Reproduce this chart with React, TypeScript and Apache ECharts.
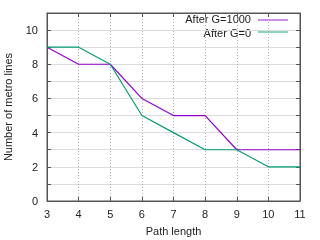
import React, { useEffect, useRef } from "react";
import * as echarts from "echarts";

const pathLength = [3, 4, 5, 6, 7, 8, 9, 10, 11];
const afterG1000 = [9, 8, 8, 6, 5, 5, 3, 3, 3];
const afterG0 = [9, 9, 8, 5, 4, 3, 3, 2, 2];
const seriesNames = ["After G=1000", "After G=0"];
const colors = ["#9400d3", "#009e73"];

export default function App() {
  const ref = useRef<HTMLDivElement>(null);
  useEffect(() => {
    if (!ref.current) return;
    const chart = echarts.init(ref.current, undefined, { renderer: "svg" });
    const font = "Liberation Sans, Arial, sans-serif";
    const toPairs = (ys: number[]) => pathLength.map((x, i) => [x, ys[i]]);
    chart.setOption({
      animation: false,
      grid: {
        left: 47, right: 20, top: 13, bottom: 39, show: true, borderColor: "#555", borderWidth: 1,
        containLabel: false, outerBoundsMode: "none",
      },
      xAxis: [
        {
          type: "value", min: 3, max: 11, interval: 1,
          name: "Path length", nameLocation: "middle", nameGap: 24,
          nameTextStyle: { fontFamily: font, fontSize: 11, color: "#222" },
          axisLine: { show: true, onZero: false, lineStyle: { color: "#555" } },
          axisTick: { show: true, inside: true, length: 4, lineStyle: { color: "#555" } },
          axisLabel: { fontFamily: font, fontSize: 11, color: "#222", margin: 7 },
          splitLine: { show: true, lineStyle: { color: "#b0b0b0", type: [1, 2], width: 1 } },
        },
        {
          type: "value", min: 3, max: 11, interval: 1, position: "top",
          axisLine: { show: true, onZero: false, lineStyle: { color: "#555" } },
          axisTick: { show: true, inside: true, length: 4, lineStyle: { color: "#555" } },
          axisLabel: { show: false }, splitLine: { show: false },
        },
      ],
      yAxis: [
        {
          type: "value", min: 0, max: 11, interval: 1,
          name: "Number of metro lines", nameLocation: "middle", nameGap: 34, nameRotate: 90,
          nameTextStyle: { fontFamily: font, fontSize: 11, color: "#222" },
          axisLine: { show: true, onZero: false, lineStyle: { color: "#555" } },
          axisTick: { show: true, inside: true, length: 4, lineStyle: { color: "#555" } },
          axisLabel: {
            fontFamily: font, fontSize: 11, color: "#222", margin: 9,
            formatter: (v: number) => (v % 2 === 0 && v <= 10 ? String(v) : ""),
          },
          splitLine: { show: true, lineStyle: { color: "#dcdcdc", width: 1 } },
        },
        {
          type: "value", min: 0, max: 11, interval: 1, position: "right",
          axisLine: { show: true, onZero: false, lineStyle: { color: "#555" } },
          axisTick: { show: true, inside: true, length: 4, lineStyle: { color: "#555" } },
          axisLabel: { show: false }, splitLine: { show: false },
        },
      ],
      series: [
        {
          name: seriesNames[0], type: "line", data: toPairs(afterG1000), symbol: "none",
          lineStyle: { color: colors[0], width: 1.2 }, itemStyle: { color: colors[0] }, z: 3,
        },
        {
          name: seriesNames[1], type: "line", data: toPairs(afterG0), symbol: "none",
          lineStyle: { color: colors[1], width: 1.2 }, itemStyle: { color: colors[1] }, z: 4,
        },
      ],
      graphic: [
        { type: "text", right: 69, top: 13, style: { text: seriesNames[0], font: `11px ${font}`, fill: "#222", textAlign: "right" } },
        { type: "line", shape: { x1: 258, y1: 20, x2: 288, y2: 20 }, style: { stroke: colors[0], lineWidth: 1.5, opacity: 0.6 } },
        { type: "text", right: 69, top: 27, style: { text: seriesNames[1], font: `11px ${font}`, fill: "#222", textAlign: "right" } },
        { type: "line", shape: { x1: 258, y1: 32, x2: 288, y2: 32 }, style: { stroke: colors[1], lineWidth: 1.5, opacity: 0.6 } },
      ],
    });
    return () => chart.dispose();
  }, []);
  return <div ref={ref} style={{ position: "fixed", left: 0, top: 0, width: 320, height: 240 }} />;
}
